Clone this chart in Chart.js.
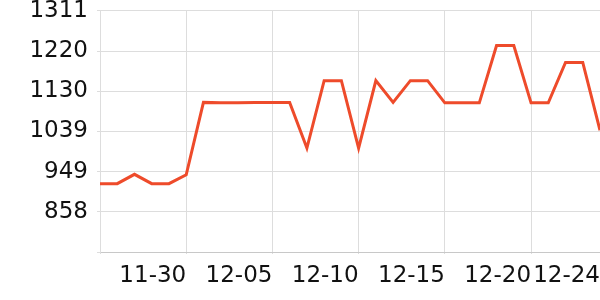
<!DOCTYPE html>
<html>
<head>
<meta charset="utf-8">
<script src="https://cdn.jsdelivr.net/npm/chart.js@4/dist/chart.umd.min.js"></script>
<style>
  body { margin: 0; background: #ffffff; }
</style>
</head>
<body>
<canvas id="chart" width="600" height="300"></canvas>
<script>
// Datas (categorias) de 11-25 até 12-24
const dates = [
    '11-25', '11-26', '11-27', '11-28', '11-29', '11-30',
    '12-01', '12-02', '12-03', '12-04', '12-05', '12-06',
    '12-07', '12-08', '12-09', '12-10', '12-11', '12-12',
    '12-13', '12-14', '12-15', '12-16', '12-17', '12-18',
    '12-19', '12-20', '12-21', '12-22', '12-23', '12-24'
];

// Valores da série
const values = [
    922, 922, 943, 922, 922, 942,
    1105, 1104, 1104, 1105, 1105, 1105,
    1002, 1154, 1154, 1002, 1154, 1105,
    1154, 1154, 1104, 1104, 1104, 1233,
    1233, 1104, 1104, 1195, 1195, 1042
];

// Rótulos exibidos no eixo X
const xTickLabels = ['11-30', '12-05', '12-10', '12-15', '12-20', '12-24'];

// Marcas do eixo Y
const yTicks = [768, 858.5, 949, 1039.5, 1130, 1220.5, 1311];

const LINE_COLOR = '#ee4b2b';
const GRID_COLOR = '#dddddd';
const TEXT_COLOR = '#111111';

Chart.defaults.font.family = 'DejaVu Sans, sans-serif';
Chart.defaults.font.size = 23;
Chart.defaults.color = TEXT_COLOR;

const ctx = document.getElementById('chart');

new Chart(ctx, {
    type: 'line',
    data: {
        labels: dates,
        datasets: [{
            data: values,
            borderColor: LINE_COLOR,
            borderWidth: 3,
            pointRadius: 0,
            tension: 0,
            fill: false
        }]
    },
    options: {
        responsive: false,
        animation: false,
        layout: { padding: 0 },
        plugins: {
            legend: { display: false },
            tooltip: { enabled: false }
        },
        scales: {
            x: {
                grid: {
                    color: function(context) {
                        const label = context.tick ? dates[context.tick.value] : '';
                        return xTickLabels.includes(label) || context.index === 0 ? GRID_COLOR : 'rgba(0,0,0,0)';
                    },
                    tickLength: 2
                },
                border: { color: '#c8c8c8' },
                ticks: {
                    autoSkip: false,
                    maxRotation: 0,
                    minRotation: 0,
                    align: 'end',
                    padding: 0,
                    // altura de linha maior empurra o texto para baixo sem padding lateral
                    font: { size: 23, lineHeight: 1.9 },
                    callback: function(value) {
                        const label = dates[value];
                        return xTickLabels.includes(label) ? label : '';
                    }
                },
                afterFit: function(scale) {
                    scale.height = 48;
                }
            },
            y: {
                min: 768,
                max: 1311,
                grid: {
                    color: GRID_COLOR,
                    tickLength: 3
                },
                border: { color: GRID_COLOR },
                ticks: {
                    padding: 9,
                    // altura de linha pequena para o topo do gráfico ficar em y=11
                    font: { size: 23, lineHeight: 0.17 },
                    callback: function(value) {
                        return value === 768 ? '' : Math.floor(value);
                    }
                },
                afterBuildTicks: function(scale) {
                    scale.ticks = yTicks.map(v => ({ value: v }));
                },
                afterFit: function(scale) {
                    scale.width = 100;
                }
            }
        }
    }
});
</script>
</body>
</html>
